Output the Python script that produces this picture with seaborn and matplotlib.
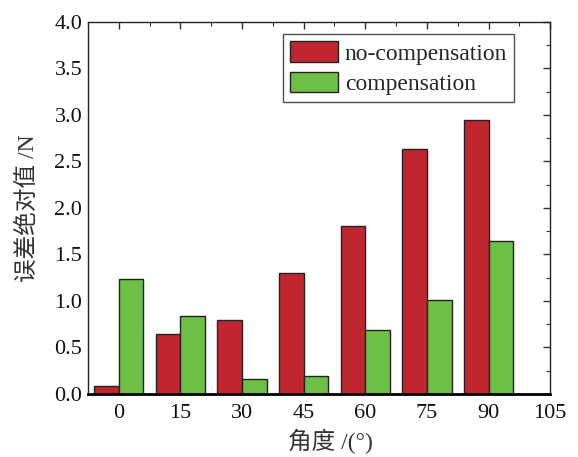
import matplotlib
matplotlib.use('Agg')
import matplotlib.pyplot as plt
import seaborn as sns
import pandas as pd
from matplotlib.ticker import MultipleLocator
from matplotlib.patches import Patch

angles = [0, 15, 30, 45, 60, 75, 90]
no_comp = [0.09, 0.64, 0.79, 1.30, 1.81, 2.63, 2.95]
comp = [1.24, 0.84, 0.16, 0.19, 0.69, 1.01, 1.64]
series_names = ['no-compensation', 'compensation']
x_ticks = [0, 15, 30, 45, 60, 75, 90, 105]

sns.set_style('white')
plt.rcParams['font.family'] = ['Liberation Serif', 'Noto Sans CJK SC']
plt.rcParams['font.size'] = 16
plt.rcParams['xtick.direction'] = 'in'
plt.rcParams['ytick.direction'] = 'in'

df = pd.DataFrame({
    'angle': angles * 2,
    'value': no_comp + comp,
    'series': [series_names[0]] * len(angles) + [series_names[1]] * len(angles),
})

colors = ['#C0262F', '#6DBF45']

fig = plt.figure(figsize=(5.78, 4.57), dpi=100)
ax = fig.add_axes([0.152, 0.138, 0.80, 0.814])
sns.barplot(data=df, x='angle', y='value', hue='series', palette=colors,
            saturation=1, native_scale=True, width=0.8,
            edgecolor='#222222', linewidth=1, ax=ax, legend=False)

ax.set_xlim(-7.5, 105)
ax.set_ylim(0, 4.0)
ax.set_xticks(x_ticks)
ax.set_xticklabels([str(t) for t in x_ticks])
ax.xaxis.set_minor_locator(MultipleLocator(7.5))
ax.yaxis.set_major_locator(MultipleLocator(0.5))
ax.yaxis.set_minor_locator(MultipleLocator(0.25))
ax.yaxis.set_major_formatter(matplotlib.ticker.FormatStrFormatter('%.1f'))
ax.tick_params(which='both', top=True, right=True, labelsize=16,
               color='#333333', labelcolor='#111111')
ax.tick_params(which='major', length=5, width=1)
ax.tick_params(which='minor', length=3, width=0.8)
ax.tick_params(axis='x', pad=7)
ax.tick_params(axis='y', pad=4)

for s in ['left', 'top', 'right']:
    ax.spines[s].set_linewidth(1)
    ax.spines[s].set_color('#222222')
ax.spines['bottom'].set_linewidth(2)
ax.spines['bottom'].set_color('black')

ax.set_xlabel('角度 /(°)', fontsize=17, color='#333333')
ax.xaxis.set_label_coords(0.525, -0.093)
ax.set_ylabel('误差绝对值 /N', fontsize=17, color='#333333', labelpad=11)

handles = [Patch(facecolor=c, edgecolor='#222222', linewidth=1) for c in colors]
leg = ax.legend(handles, series_names, loc='upper right', bbox_to_anchor=(0.922, 0.967),
                fontsize=17, frameon=True, fancybox=False, edgecolor='#222222',
                handlelength=2.0, handleheight=0.95, borderpad=0.3, labelspacing=0.3,
                handletextpad=0.3, borderaxespad=0)
leg.get_frame().set_linewidth(1)

fig.savefig('out.png', dpi=100)
